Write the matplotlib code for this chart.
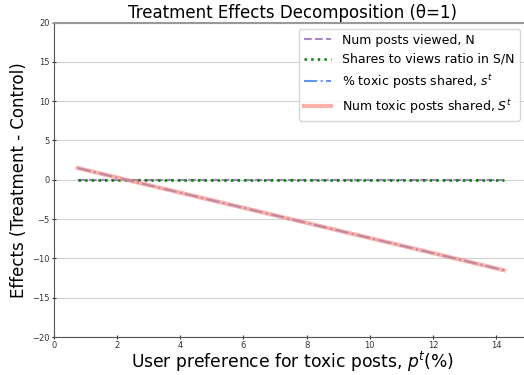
import numpy as np
import matplotlib.pyplot as plt

# preference for toxic posts (%) and the effects
p_t = [0.75, 2.5, 5.0, 7.5, 10.0, 12.5, 14.25]
eff_N = [0.0, 0.0, 0.0, 0.0, 0.0, 0.0, 0.0]
eff_ratio = [0.0, 0.0, 0.0, 0.0, 0.0, 0.0, 0.0]
eff_share = [1.5, -0.2, -2.6, -5.0, -7.4, -9.8, -11.5]
eff_num = [1.5, -0.2, -2.6, -5.0, -7.4, -9.8, -11.5]

fig = plt.figure(figsize=(5.24, 3.75), dpi=100)
ax = fig.add_axes([0.103, 0.101, 0.91, 0.839])

ax.plot(p_t, eff_N, '--', color='tab:purple', alpha=0.8, lw=1.5, label='Num posts viewed, N')
ax.plot(p_t, eff_ratio, ':', color='green', lw=1.8, label='Shares to views ratio in S/N')
ax.plot(p_t, eff_share, '-.', color='cornflowerblue', lw=1.5, label='% toxic posts shared, $s^t$')
ax.plot(p_t, eff_num, '-', color='salmon', alpha=0.6, lw=3, label='Num toxic posts shared, $S^t$')

ax.set_xlim(0, 15.1)
ax.set_ylim(-20, 20)
ax.set_xticks(np.arange(0, 15, 2))
ax.set_yticks(np.arange(-20, 21, 5))
ax.yaxis.grid(True, color='lightgray', lw=0.8)
ax.tick_params(labelsize=6, colors='#333333', length=3, pad=1.5, direction='inout')
for s in ['left', 'bottom']:
    ax.spines[s].set_color('#555555')
ax.spines['top'].set_color('#999999')
ax.spines['top'].set_linewidth(1.5)

ax.set_title('Treatment Effects Decomposition (θ=1)', fontsize=12, pad=3)
ax.set_xlabel('User preference for toxic posts, $p^t$(%)', fontsize=12.3, labelpad=0)
ax.set_ylabel('Effects (Treatment - Control)', fontsize=12, labelpad=3)
ax.legend(loc='upper right', fontsize=9, bbox_to_anchor=(0.99, 1.0),
          handlelength=2.2, handletextpad=0.9)

fig.savefig('out.png', dpi=100)
